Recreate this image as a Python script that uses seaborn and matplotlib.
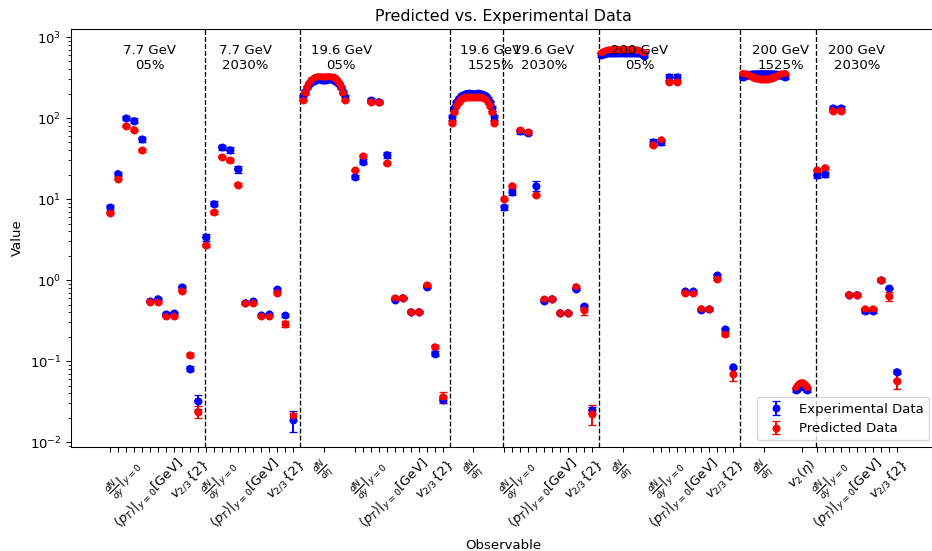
import numpy as np
import pandas as pd
import matplotlib
matplotlib.use("Agg")
import matplotlib.pyplot as plt
import seaborn as sns
from matplotlib.transforms import blended_transform_factory

# ---------------- data ----------------
group_names = ["7.7 GeV\n05%", "7.7 GeV\n2030%", "19.6 GeV\n05%", "19.6 GeV\n1525%",
               "19.6 GeV\n2030%", "200 GeV\n05%", "200 GeV\n1525%", "200 GeV\n2030%"]

LBL_DNDY = r'$\frac{dN}{dy}|_{y=0}$'
LBL_PT = r'$\langle p_T\rangle|_{y=0}$[GeV]'
LBL_VN = r'$v_{2/3}\{2\}$'
LBL_DNDETA = r'$\frac{dN}{d\eta}$'
LBL_V2ETA = r'$v_2(\eta)$'

# 7.7 GeV 0-5%
exp_77_05 = [7.9, 20.7, 100, 93, 55, 0.55, 0.59, 0.38, 0.39, 0.82, 0.081, 0.032]
pred_77_05 = [6.7, 17.7, 80, 72, 40, 0.54, 0.535, 0.356, 0.36, 0.74, 0.119, 0.0237]
eexp_77_05 = [0.5, 1.2, 6, 6, 4, 0.02, 0.02, 0.01, 0.01, 0.03, 0.006, 0.006]
epred_77_05 = [0.2, 0.5, 2, 2, 1.5, 0.01, 0.01, 0.01, 0.01, 0.02, 0.008, 0.004]

# 7.7 GeV 20-30%
exp_77_2030 = [3.37, 8.75, 43.5, 40.6, 23.3, 0.525, 0.55, 0.37, 0.38, 0.77, 0.367, 0.019]
pred_77_2030 = [2.7, 6.85, 33, 30, 15, 0.516, 0.52, 0.356, 0.356, 0.70, 0.29, 0.021]
eexp_77_2030 = [0.3, 0.6, 3, 3, 2, 0.02, 0.02, 0.01, 0.01, 0.03, 0.015, 0.0055]
epred_77_2030 = [0.1, 0.3, 1, 1, 0.6, 0.01, 0.01, 0.01, 0.01, 0.02, 0.023, 0.002]

# 19.6 GeV 0-5%
dndeta_exp_196_05 = [180, 212, 240, 262, 278, 289, 296, 300, 300, 298, 296, 298, 300, 300, 296, 289, 278, 262, 240, 212, 180]
dndeta_pred_196_05 = [165, 205, 242, 272, 294, 309, 318, 323, 324, 322, 320, 322, 324, 323, 318, 309, 294, 272, 242, 205, 165]
dndeta_eexp_196_05 = 12
dndeta_epred_196_05 = 4
exp_196_05 = [18.8, 28.9, 165, 159, 35.3, 0.575, 0.605, 0.406, 0.406, 0.827, 0.124, 0.033]
pred_196_05 = [22.6, 34, 159, 156, 27.6, 0.60, 0.605, 0.406, 0.406, 0.867, 0.150, 0.036]
eexp_196_05 = [1.2, 2, 10, 10, 3, 0.02, 0.02, 0.01, 0.01, 0.03, 0.008, 0.003]
epred_196_05 = [0.5, 0.7, 3, 3, 0.8, 0.01, 0.01, 0.01, 0.01, 0.02, 0.006, 0.006]

# 19.6 GeV 15-25%
dndeta_exp_196_1525 = [102, 132, 156, 173, 185, 193, 198, 201, 202, 201, 200, 201, 202, 201, 198, 193, 185, 173, 156, 132, 102]
dndeta_pred_196_1525 = [88, 118, 142, 159, 170, 177, 181, 183, 183, 182, 181, 182, 183, 183, 181, 177, 170, 159, 142, 118, 88]
dndeta_eexp_196_1525 = 8
dndeta_epred_196_1525 = 3

# 19.6 GeV 20-30%
exp_196_2030 = [7.9, 12.3, 68.6, 66, 14.6, 0.556, 0.588, 0.395, 0.395, 0.78, 0.473, 0.0248]
pred_196_2030 = [10.1, 14.6, 70.5, 67, 11.2, 0.58, 0.588, 0.395, 0.395, 0.83, 0.43, 0.0225]
eexp_196_2030 = [0.6, 1.0, 5, 5, 2.0, 0.02, 0.02, 0.01, 0.01, 0.03, 0.02, 0.002]
epred_196_2030 = [0.3, 0.4, 2, 2, 0.4, 0.01, 0.01, 0.01, 0.01, 0.02, 0.06, 0.006]

# 200 GeV 0-5%
dndeta_exp_200_05 = [600, 618, 630, 636, 640, 642, 644, 644, 644, 642, 641, 642, 644, 644, 644, 642, 640, 636, 630, 618, 590]
dndeta_pred_200_05 = [640, 662, 678, 688, 694, 698, 700, 700, 699, 697, 696, 697, 699, 700, 700, 698, 694, 688, 678, 662, 640]
dndeta_eexp_200_05 = 30
dndeta_epred_200_05 = 8
exp_200_05 = [50.6, 50, 321, 321, 0.73, 0.73, 0.43, 0.44, 1.15, 0.248, 0.085]
pred_200_05 = [47, 54, 281, 281, 0.70, 0.685, 0.445, 0.44, 1.03, 0.215, 0.069]
eexp_200_05 = [4, 4, 25, 25, 0.03, 0.03, 0.02, 0.02, 0.05, 0.01, 0.003]
epred_200_05 = [1.5, 1.5, 8, 8, 0.01, 0.01, 0.01, 0.01, 0.02, 0.008, 0.012]

# 200 GeV 15-25%
dndeta_exp_200_1525 = [318, 328, 336, 342, 346, 349, 351, 352, 353, 353, 353, 353, 353, 352, 351, 349, 346, 342, 336, 328, 318]
dndeta_pred_200_1525 = [355, 352, 347, 340, 332, 324, 317, 311, 307, 305, 304, 305, 307, 311, 317, 324, 332, 340, 347, 352, 355]
dndeta_eexp_200_1525 = 18
dndeta_epred_200_1525 = 6
v2eta_exp_200_1525 = [0.044, 0.046, 0.048, 0.049, 0.049, 0.049, 0.048, 0.046, 0.044]
v2eta_pred_200_1525 = [0.047, 0.050, 0.052, 0.053, 0.054, 0.053, 0.052, 0.050, 0.047]
v2eta_eexp_200_1525 = 0.002
v2eta_epred_200_1525 = 0.001

# 200 GeV 20-30%
exp_200_2030 = [19.6, 20.4, 133, 133, 0.66, 0.66, 0.418, 0.418, 1.0, 0.79, 0.074]
pred_200_2030 = [22.8, 24.4, 124, 124, 0.66, 0.655, 0.44, 0.44, 1.0, 0.634, 0.057]
eexp_200_2030 = [1.5, 1.5, 10, 10, 0.03, 0.03, 0.02, 0.02, 0.05, 0.02, 0.003]
epred_200_2030 = [0.8, 0.8, 4, 4, 0.01, 0.01, 0.01, 0.01, 0.02, 0.08, 0.012]

LAB12 = {2: LBL_DNDY, 5: LBL_PT, 10: LBL_VN}
LAB11 = {2: LBL_DNDY, 4: LBL_PT, 9: LBL_VN}

structure = [
    [("pts", exp_77_05, pred_77_05, eexp_77_05, epred_77_05, LAB12)],
    [("pts", exp_77_2030, pred_77_2030, eexp_77_2030, epred_77_2030, LAB12)],
    [("arch", dndeta_exp_196_05, dndeta_pred_196_05, dndeta_eexp_196_05, dndeta_epred_196_05, LBL_DNDETA, 5.3),
     ("pts", exp_196_05, pred_196_05, eexp_196_05, epred_196_05, LAB12)],
    [("arch", dndeta_exp_196_1525, dndeta_pred_196_1525, dndeta_eexp_196_1525, dndeta_epred_196_1525, LBL_DNDETA, 5.3)],
    [("pts", exp_196_2030, pred_196_2030, eexp_196_2030, epred_196_2030, LAB12)],
    [("arch", dndeta_exp_200_05, dndeta_pred_200_05, dndeta_eexp_200_05, dndeta_epred_200_05, LBL_DNDETA, 5.3),
     ("pts", exp_200_05, pred_200_05, eexp_200_05, epred_200_05, LAB11)],
    [("arch", dndeta_exp_200_1525, dndeta_pred_200_1525, dndeta_eexp_200_1525, dndeta_epred_200_1525, LBL_DNDETA, 5.3),
     ("arch", v2eta_exp_200_1525, v2eta_pred_200_1525, v2eta_eexp_200_1525, v2eta_epred_200_1525, LBL_V2ETA, 1.4)],
    [("pts", exp_200_2030, pred_200_2030, eexp_200_2030, epred_200_2030, LAB11)],
]

# ---------------- layout ----------------
ARCH_PAD, ARCH_GAP = 0.2, 1.2
pos = 0.0
xs_all, exp_all, pred_all, eexp_all, epred_all = [], [], [], [], []
ticks, ticklabels, group_starts = [], [], []
for blocks in structure:
    group_starts.append(pos)
    for blk in blocks:
        kind, e, p, ee, pe, lab = blk[:6]
        n = len(e)
        if kind == "pts":
            xs = pos + np.arange(n)
            for k, xv in enumerate(xs):
                ticks.append(xv)
                ticklabels.append(lab.get(k, ""))
            pos += n
        else:
            width = blk[6]
            xs = pos + ARCH_PAD + np.linspace(0, width, n)
            ticks.append(xs.mean())
            ticklabels.append(lab)
            pos += ARCH_PAD + width + ARCH_GAP
        xs_all.extend(xs)
        exp_all.extend(e)
        pred_all.extend(p)
        eexp_all.extend(np.broadcast_to(ee, (n,)))
        epred_all.extend(np.broadcast_to(pe, (n,)))

df = pd.DataFrame({
    "x": np.concatenate([xs_all, xs_all]),
    "value": np.concatenate([exp_all, pred_all]),
    "series": ["Experimental Data"] * len(xs_all) + ["Predicted Data"] * len(xs_all),
})

# ---------------- plot ----------------
DPI = 95
fig = plt.figure(figsize=(932 / DPI, 551 / DPI), dpi=DPI)
ax = fig.add_axes([70.5 / 932, (551 - 447) / 551, (936 - 70.5) / 932, (447 - 29) / 551])
ax.set_yscale("log")

ax.errorbar(xs_all, exp_all, yerr=eexp_all, fmt="o", ms=5, color="blue", capsize=3,
            label="Experimental Data")
ax.errorbar(xs_all, pred_all, yerr=epred_all, fmt="o", ms=5, color="red", capsize=3,
            label="Predicted Data")
sns.scatterplot(data=df, x="x", y="value", hue="series",
                palette={"Experimental Data": "blue", "Predicted Data": "red"},
                s=27, linewidth=0, legend=False, ax=ax, zorder=3)

for gs in group_starts[1:]:
    ax.axvline(gs - 0.12, color="black", linestyle="--", linewidth=1)

trans = blended_transform_factory(ax.transData, ax.transAxes)
for gs, name in zip(group_starts, group_names):
    ax.text(gs + 5, 0.93, name, transform=trans, ha="center", va="center", fontsize=10)

ax.set_ylim(10 ** -2.06, 10 ** 3.10)
ax.set_xticks(ticks)
ax.set_xticklabels(ticklabels, rotation=45, ha="center")
ax.set_xlabel("Observable")
ax.set_ylabel("Value")
ax.set_title("Predicted vs. Experimental Data")
ax.legend(loc="lower right")

fig.savefig("out.png", dpi=DPI)
